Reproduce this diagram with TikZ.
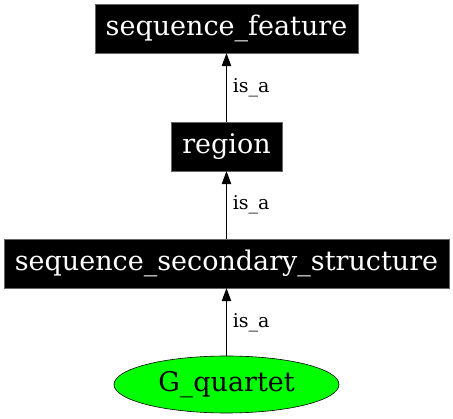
\documentclass[tikz,border=0pt]{standalone}
\usepackage{fontspec}
\setmainfont{DejaVu Serif}
\usetikzlibrary{arrows.meta,shapes.geometric,positioning}
\tikzset{
    term/.style={rectangle, fill=black, draw=black!60, line width=0.4pt, text=white,
        minimum height=49pt, inner sep=0pt, font=\fontsize{27}{32}\selectfont},
    leaf/.style={ellipse, fill=green, draw=black, line width=0.6pt,
        minimum width=225pt, minimum height=57pt, inner sep=0pt,
        font=\fontsize{27}{32}\selectfont},
    isa/.style={-{Triangle[length=13pt,width=9.5pt]}, line width=0.8pt},
    lbl/.style={right, inner sep=0pt, xshift=6pt, font=\fontsize{19}{22}\selectfont}
}
\begin{document}
\begin{tikzpicture}[x=1pt, y=-1pt]
    \useasboundingbox (0, 0) rectangle (453, 419);
    \node[term, minimum width=263pt] (sf) at (226.5, 28.5) {sequence\_feature};
    \node[term, minimum width=111pt] (reg) at (226.5, 146.5) {region};
    \node[term, minimum width=445pt] (sss) at (226.5, 263.5) {sequence\_secondary\_structure};
    \node[leaf] (gq) at (226.5, 384.5) {G\_quartet};

    \draw
    (reg) edge[isa] node[lbl, pos=0.49]{is\_a} (sf)
    (sss) edge[isa] node[lbl, pos=0.5]{is\_a} (reg)
    (gq) edge[isa] node[lbl, pos=0.49]{is\_a} (sss);
\end{tikzpicture}
\end{document}
